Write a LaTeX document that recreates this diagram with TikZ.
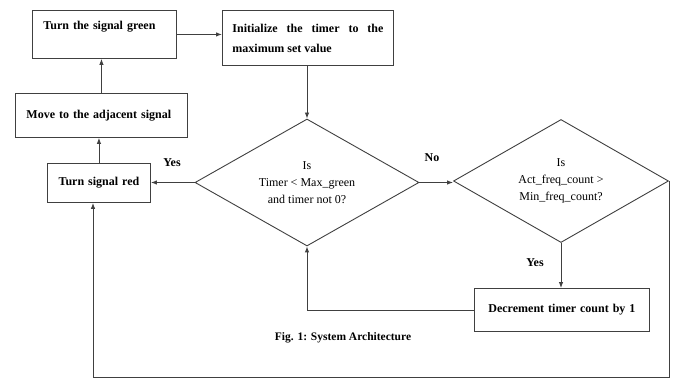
\documentclass[tikz,border=0pt]{standalone}
\usepackage{fontspec}
\setmainfont{Liberation Serif}
\usetikzlibrary{arrows.meta,positioning,shapes.geometric}

\begin{document}
\begin{tikzpicture}[x=1pt, y=-1pt,
        procbox/.style={draw=black!75, line width=0.9pt, anchor=north west, inner xsep=11pt, inner ysep=0pt,
          font=\fontsize{12}{20}\selectfont\bfseries},
        decision/.style={draw=black!75, line width=0.9pt, diamond, aspect=1.8, inner sep=0pt,
          align=center, font=\fontsize{12}{17}\selectfont},
        flow/.style={draw=black!75, line width=0.9pt, -{Latex[length=6pt,width=4.5pt]}},
        tag/.style={font=\fontsize{12}{14}\selectfont\bfseries}
      ]
      \useasboundingbox[fill=white] (0,0) rectangle (674,379);
      % boxes on the left and top
      \node[procbox, minimum width=144pt, text width=122pt, align=left, text height=19pt, text depth=29pt] (green) at (32,10)
        {Turn the signal green};
      \node[procbox, minimum width=171pt, minimum height=55pt, inner xsep=10pt, text width=151pt, align=justify] (init) at (222,10)
        {Initialize the timer to the\linebreak maximum set value};
      \node[procbox, minimum width=172pt, minimum height=44pt, text width=150pt, align=left] (move) at (15,93)
        {Move to the adjacent signal};
      \node[procbox, minimum width=103pt, minimum height=39pt, inner xsep=0pt, text width=103pt, align=center] (red) at (47,163)
        {Turn signal red};
      % the two tests
      \node[decision, minimum width=224pt, minimum height=127pt] (test) at (307,182.5)
        {Is\\ Timer < Max\_green\\ and timer not 0?};
      \node[decision, minimum width=215pt, minimum height=123pt] (freq) at (561,181)
        {Is\\ Act\_freq\_count >\\ Min\_freq\_count?};
      \node[procbox, minimum width=175pt, minimum height=43pt, inner xsep=0pt, text width=175pt, align=center] (dec) at (474,288)
        {Decrement timer count by 1};
      \coordinate (bot) at (93,377);

      \draw[flow] (green.east) -- (green.east -| init.west);
      \draw[flow] (init.south -| test.north) -- (test.north);
      \draw[flow] (move.north) -- (move.north |- green.south);
      \draw[flow] (red.north) -- (red.north |- move.south);
      \draw[flow] (test.west) -- (red.east |- test.west);
      \draw[flow] (test.east) -- (test.east -| freq.west);
      \draw[flow] (freq.south) -- (freq.south |- dec.north);
      \draw[flow] (dec.west) -| (test.south);
      \draw[flow] (freq.east) |- (bot) -- (bot |- red.south);

      \node[tag] (yes1) at (172,163) {Yes};
      \node[tag] (no1) at (432,158) {No};
      \node[tag] (yes2) at (535,263) {Yes};
      \node[font=\fontsize{11.5}{14}\selectfont\bfseries] (caption) at (343,338) {Fig. 1: System Architecture};
    \end{tikzpicture}
\end{document}
